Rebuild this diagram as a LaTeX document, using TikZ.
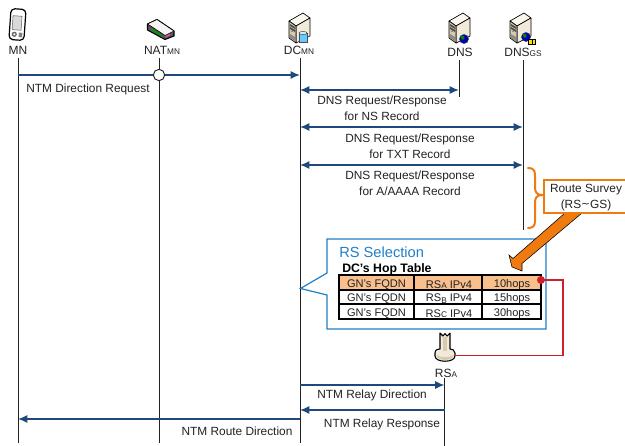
\documentclass[tikz,border=0pt]{standalone}
\usepackage{fontspec}
\setmainfont{Liberation Sans}
\usetikzlibrary{arrows.meta,shapes.geometric}
\definecolor{seqblue}{HTML}{1F497D}
\definecolor{calloutblue}{HTML}{1F7FC8}
\definecolor{surveyorange}{HTML}{EE7A10}
\definecolor{rowfill}{HTML}{F9BF8C}
\definecolor{hopred}{HTML}{D0202A}
\definecolor{txt}{HTML}{222222}
\definecolor{srvfront}{HTML}{D6CBAF}
\definecolor{srvside}{HTML}{F1EADA}
\definecolor{srvtop}{HTML}{FAF7EE}
\newcommand{\smalltxt}[1]{{\fontsize{6.2pt}{7pt}\selectfont #1}}
\tikzset{
  lifeline/.style={draw=txt,line width=0.75pt},
  msg/.style={draw=seqblue,line width=1.1pt,-{Latex[length=7pt,width=6pt]}},
  msgboth/.style={draw=seqblue,line width=1.1pt,{Latex[length=7pt,width=6pt]}-{Latex[length=7pt,width=6pt]}},
  lbl/.style={text=txt,font=\fontsize{8.9pt}{12pt}\selectfont,align=center,inner sep=0pt},
  head/.style={text=txt,font=\fontsize{9pt}{10pt}\selectfont,inner sep=0pt},
  cell/.style={text=txt,font=\fontsize{8.3pt}{9pt}\selectfont,inner sep=0pt},
  icon/.style={draw=black,line width=0.5pt,line join=round},
  server/.pic={
    \fill[icon,fill=srvtop] (-11,-7)--(3,-15)--(10,-10)--(-4,-2)--cycle;
    \fill[icon,fill=srvside] (-4,-2)--(10,-10)--(10,8)--(-4,15)--cycle;
    \fill[icon,fill=srvfront] (-11,-7)--(-4,-2)--(-4,15)--(-11,10)--cycle;
    \fill[black!70] (-10,-4)--(-5,-1)--(-5,1)--(-10,-2)--cycle;
    \fill[black!70] (-10,-1)--(-5,2)--(-5,4)--(-10,1)--cycle;
    \fill[black!45] (-10,6)--(-5,9)--(-5,13)--(-10,10)--cycle;
    \fill[black!60] (-8,3.2) circle (0.8);
  },
  globe/.pic={
    \fill[draw=black!70,line width=0.3pt,fill=blue!70!black] (0,0) circle (4.6);
    \fill[green!55!black] (-3,-2.5) .. controls (0,-4.5) and (2,-2) .. (0.5,0) .. controls (-1,2) and (-3,1) .. cycle;
  }
}
\begin{document}
\begin{tikzpicture}[x=0.75pt,y=-0.75pt]
\useasboundingbox (0,0) rectangle (625,446);

% --- icons
% phone
\begin{scope}[rotate around={-4:(17.5,24)}]
  \fill[icon,line width=0.9pt,fill=white,rounded corners=3pt] (10,9) rectangle (25,40);
  \fill[black!15,draw=black!60,line width=0.4pt] (12.5,16) rectangle (21.5,30);
  \fill[black!60] (15,34.5) circle (2.6);
  \fill[white] (15,34.5) circle (1.2);
  \fill[black!50] (19.5,32.5) rectangle (23,37);
\end{scope}
% NAT router
\fill[icon,line width=0.8pt,fill=black!65] (147.5,24)--(147.5,30)--(165,39.5)--(174,36)--(174,31)--(157,19.5)--cycle;
\fill[icon,fill=black!4] (147.5,24)--(157,19.5)--(174,31)--(165,35.5)--cycle;
\fill[green!60!black] (152,29)--(162,34.5)--(162,36.5)--(152,31)--cycle;
\fill[magenta!70] (165.5,36)--(170,33.8)--(170,35.2)--(165.5,37.4)--cycle;
% servers
\pic at (300,28) {server};
\fill[draw=black!70,line width=0.35pt,fill=blue!35!cyan!60] (299,33) rectangle (307,42);
\fill[draw=black!70,line width=0.35pt,fill=cyan!20] (303,33) ellipse (4 and 1.6);
\pic at (460,28) {server};
\pic at (464,39) {globe};
\pic at (521,28) {server};
\pic at (526,37) {globe};
\fill[draw=black,line width=0.5pt,fill=yellow!85!orange] (528.5,39) rectangle (535.5,44);
\draw[black,line width=0.5pt] (532,39)--(532,44);
% relay
\fill[icon,line width=0.8pt,fill=srvside] (435,353) .. controls (435,349) and (439,349) .. (440,349) -- (440,333) -- (443,336) -- (445,333.5) -- (447,336) -- (450,333) -- (450,349) .. controls (452,349) and (455,350) .. (455,353) -- (455,356) .. controls (455,363) and (435,363) .. (435,356) -- cycle;
\fill[srvfront] (442.5,337) rectangle (447,351);
\fill[srvfront] (437,355) .. controls (440,358) and (450,358) .. (453,355) -- (453,357) .. controls (450,361) and (440,361) .. (437,357) -- cycle;

% --- heads
\node[head] (mnL) at (18,50.5) {MN};
\node[head] (natL) at (162,50.5) {NAT\smalltxt{MN}};
\node[head] (dcL) at (299,50.5) {DC\smalltxt{MN}};
\node[head] (dnsL) at (460,52.5) {DNS};
\node[head] (gsL) at (523,52.5) {DNS\smalltxt{GS}};
\node[head] (rsL) at (446,373) {RS\smalltxt{A}};

% --- lifeline anchors
\coordinate (mnT) at (18,58);   \coordinate (mnB) at (18,443);
\coordinate (natT) at (159,58); \coordinate (natB) at (159,443);
\coordinate (dcT) at (300,58);  \coordinate (dcB) at (300,443);
\coordinate (dnsT) at (459,60); \coordinate (dnsB) at (459,97);
\coordinate (gsT) at (523,60);  \coordinate (gsB) at (523,230);
\coordinate (rsT) at (444.5,378); \coordinate (rsB) at (444.5,446);
\draw[lifeline] (mnT)--(mnB);
\draw[lifeline] (natT)--(natB);
\draw[lifeline] (dcT)--(dcB);
\draw[lifeline] (dnsT)--(dnsB);
\draw[lifeline] (gsT)--(gsB);
\draw[lifeline] (rsT)--(rsB);

% --- messages
\path (mnT|-0,75) coordinate (m1a) (dcT|-0,75) coordinate (m1b);
\draw[msg] (m1a)--(m1b);
\node[circle,draw=txt,fill=white,line width=0.7pt,minimum size=8.5pt,inner sep=0pt] (natDot) at (159,75) {};
\path (dcT|-0,90) coordinate (m2a) (dnsT|-0,90) coordinate (m2b);
\draw[msgboth] (m2a)--(m2b);
\path (dcT|-0,127) coordinate (m3a) (gsT|-0,127) coordinate (m3b);
\draw[msgboth] (m3a)--(m3b);
\path (dcT|-0,165) coordinate (m4a) (gsT|-0,165) coordinate (m4b);
\draw[msgboth] (m4a)--(m4b);
\path (dcT|-0,385) coordinate (m5a) (rsT|-0,385) coordinate (m5b);
\draw[msg] (m5a)--(m5b);
\path (rsT|-0,410) coordinate (m6a) (dcT|-0,410) coordinate (m6b);
\draw[msg] (m6a)--(m6b);
\path (dcT|-0,419) coordinate (m7a) (mnT|-0,419) coordinate (m7b);
\draw[msg] (m7a)--(m7b);

\node[lbl] (t1) at (88,89.5) {NTM Direction Request};
\node[lbl] (t2) at (382,108.5) {DNS Request/Response\\for NS Record};
\node[lbl] (t3) at (410,146.5) {DNS Request/Response\\for TXT Record};
\node[lbl] (t4) at (410,183) {DNS Request/Response\\for A/AAAA Record};
\node[lbl] (t5) at (372,395.5) {NTM Relay Direction};
\node[lbl] (t6) at (382,424.5) {NTM Relay Response};
\node[lbl] (t7) at (237,431.5) {NTM Route Direction};

% --- callout
\path[draw=calloutblue,line width=0.9pt,fill=white] (327,239)--(546,239)--(546,329)--(327,329)--(327,295)--(300.5,288.5)--(327,273)--cycle;
\node[anchor=west,text=calloutblue,font=\fontsize{11pt}{12pt}\selectfont,inner sep=0pt] (rsSel) at (339,252) {RS Selection};
\node[anchor=west,text=black,font=\fontsize{9.2pt}{10pt}\selectfont\bfseries,inner sep=0pt] (hopT) at (342,269) {DC's Hop Table};

% --- route survey
\draw[surveyorange,line width=1.5pt,line cap=round] (528,168) .. controls (533,168) and (535,170) .. (535,175) -- (535,188) .. controls (535,192) and (537,195) .. (542,195) .. controls (537,195) and (535,198) .. (535,202) -- (535,221) .. controls (535,226) and (533,228) .. (528,228);
\fill[surveyorange,draw=black,line width=0.4pt] (565,213)--(513,258.5)--(509,255)--(512,267)--(522,271)--(522,263.5)--(582,213)--cycle;
\node[rectangle,draw=surveyorange,fill=white,line width=1.3pt,minimum width=69pt,minimum height=24.5pt,inner sep=0pt] (surveyBox) at (590,196.5) {};
\node[lbl] (surveyTxt) at (586,197.5) {Route Survey\\(RS\raisebox{0.4pt}{\fontspec{DejaVu Sans}\fontsize{8pt}{8pt}\selectfont ∼}GS)};

% --- table
\fill[rowfill] (339,275) rectangle (541,290);
\draw[black,line width=0.8pt] (339,290)--(541,290) (339,304)--(541,304) (414,275)--(414,319) (482,275)--(482,319);
\draw[black,line width=1.5pt] (339,275) rectangle (541,319);
\foreach \yy/\aa/\hh in {284.5/\smalltxt{A}/10hops,298.5/{\raisebox{-1.5pt}{\smalltxt{B}}}/15hops,313.5/\smalltxt{C}/30hops}{
  \node[cell] at (376.5,\yy) {GN's FQDN};
  \node[cell] at (449,\yy) {RS\aa{} IPv4};
  \node[cell] at (512,\yy) {\hh};
}
\node[circle,fill=hopred,minimum size=6pt,inner sep=0pt] (hopDot) at (541,280) {};
\coordinate (rsIcon) at (455,355.5);
\draw[hopred,line width=1pt] (hopDot.center)-|(563,355.5)--(rsIcon);
\end{tikzpicture}
\end{document}
